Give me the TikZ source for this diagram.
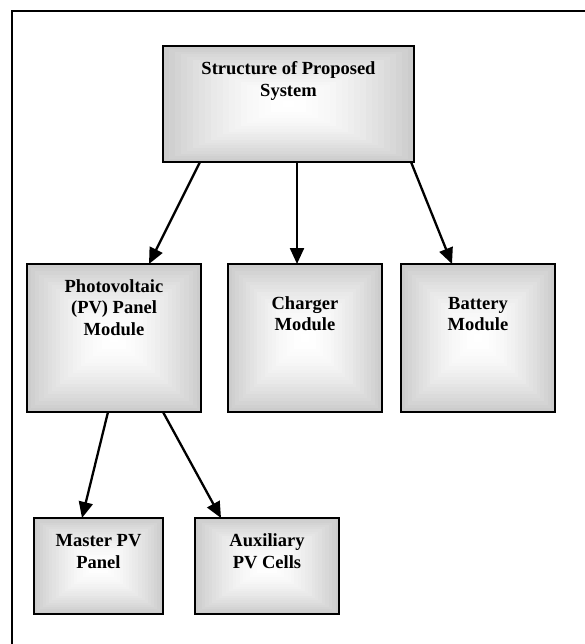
\documentclass[tikz,border=0pt]{standalone}
\usepackage{fontspec}
\setmainfont{Liberation Serif}
\usetikzlibrary{arrows.meta}
\tikzset{
  boxborder/.style={draw=black, line width=2pt, rectangle, inner sep=0pt, outer sep=0pt},
  boxlabel/.style={align=center, inner sep=0pt, anchor=base, font=\bfseries\fontsize{18.5}{21.5}\selectfont},
  arr/.style={line width=2.3pt, -{Triangle[length=16pt,width=14pt]}},
  frameline/.style={line width=2pt}
}
\newcommand\mygradbox[5]{%
  \pgfmathsetmacro\mydx{(#4-#2)/42}%
  \pgfmathsetmacro\mydy{(#5-#3)/42}%
  \foreach \i in {0,...,20}{%
    \pgfmathsetmacro\myg{20*(1-\i/20)^1.6}%
    \fill[black!\myg] ({#2+\i*\mydx},{#3+\i*\mydy}) rectangle ({#4-\i*\mydx},{#5-\i*\mydy});
  }%
  \node[boxborder, minimum width={(#4-#2)*1pt}, minimum height={(#5-#3)*1pt}] (#1) at ({(#2+#4)/2},{(#3+#5)/2}) {};
}
\begin{document}
\begin{tikzpicture}[x=1pt, y=-1pt]
\useasboundingbox (0,0) rectangle (585,644);
\fill[white] (0,0) rectangle (585,644);
\draw[frameline] (12,644) -- (12,11) -- (585,11);

\mygradbox{top}{163}{46}{414}{162}
\mygradbox{pv}{27}{264}{201}{412}
\mygradbox{charger}{228}{264}{382}{412}
\mygradbox{battery}{401}{264}{555}{412}
\mygradbox{master}{34}{518}{163}{614}
\mygradbox{aux}{195}{518}{339}{614}

\node[boxlabel] (toplbl) at ([yshift=-50.5pt]top.north) {Structure of Proposed\\System};
\node[boxlabel] (pvlbl) at ([yshift=-71pt]pv.north) {Photovoltaic\\(PV) Panel\\Module};
\node[boxlabel] (chlbl) at ([yshift=-66.5pt]charger.north) {Charger\\Module};
\node[boxlabel] (batlbl) at ([yshift=-66.5pt]battery.north) {Battery\\Module};
\node[boxlabel] (mlbl) at ([yshift=-50pt]master.north) {Master PV\\Panel};
\node[boxlabel] (albl) at ([yshift=-50pt]aux.north) {Auxiliary\\PV Cells};

\draw[arr] ([xshift=-88.5pt]top.south) -- ([xshift=35pt]pv.north);
\draw[arr] ([xshift=8.5pt]top.south) -- ([xshift=-8pt]charger.north);
\draw[arr] ([xshift=122.5pt]top.south) -- ([xshift=-26pt]battery.north);
\draw[arr] ([xshift=-6pt]pv.south) -- ([xshift=-16.5pt]master.north);
\draw[arr] ([xshift=49pt]pv.south) -- ([xshift=-46pt]aux.north);
\end{tikzpicture}
\end{document}
